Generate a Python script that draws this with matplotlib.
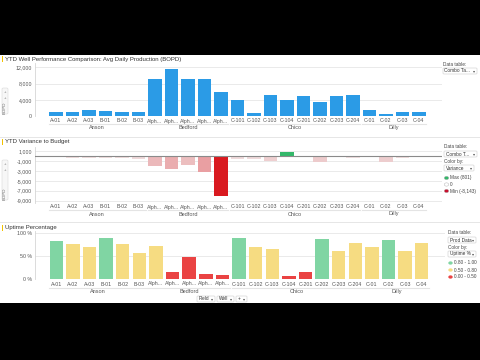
# Well dashboard: production, variance to budget, uptime
import matplotlib.pyplot as plt
import numpy as np
from matplotlib.patches import Rectangle, FancyBboxPatch, Circle
from matplotlib.colors import LinearSegmentedColormap, TwoSlopeNorm
from matplotlib.transforms import blended_transform_factory

plt.rcParams['font.family'] = ['Liberation Sans', 'DejaVu Sans']

W, H = 480, 360

wells = ["A-01", "A-02", "A-03", "B-01", "B-02", "B-03",
         "Alph...", "Alph...", "Alph...", "Alph...", "Alph...",
         "C-101", "C-102", "C-103", "C-104", "C-201", "C-202", "C-203", "C-204",
         "C-01", "C-02", "C-03", "C-04"]
fields = ["Anson", "Bedford", "Chico", "Dilly"]
field_sizes = [6, 5, 8, 4]

bopd = [1060, 980, 1470, 1220, 1060, 1060,
        9060, 11510, 8980, 9060, 5880,
        4000, 820, 5300, 4080, 5060, 3510, 5060, 5300,
        1470, 650, 980, 1140]
variance = [-60, -460, -420, -400, -480, -620,
            -2100, -2650, -1850, -3250, -8143,
            -520, -560, -1050, 801, -40, -1250, -250, -350,
            -280, -1180, -450, -30]
uptime = [0.83, 0.77, 0.70, 0.89, 0.76, 0.57,
          0.72, 0.16, 0.47, 0.11, 0.09,
          0.89, 0.70, 0.66, 0.07, 0.16, 0.86, 0.61, 0.79,
          0.69, 0.84, 0.61, 0.79]

fig = plt.figure(figsize=(4.8, 3.6), dpi=100, facecolor="black")
fig.patches.append(Rectangle((0, 1 - 303 / H), 1, (303 - 55) / H,
                             transform=fig.transFigure, facecolor="white",
                             edgecolor="none", zorder=-10))

def fx(x):
    return x / W

def fy(y):
    return 1 - y / H

def ftext(x, y, s, size=3.4, color="#444444", **kw):
    fig.text(fx(x), fy(y), s, fontsize=size, color=color, va="center", **kw)

def dropdown(x, y, w, s):
    fig.patches.append(FancyBboxPatch((fx(x), fy(y + 3)), fx(w), 6 / H,
                                      boxstyle="round,pad=0,rounding_size=0.002",
                                      transform=fig.transFigure, facecolor="white",
                                      edgecolor="#cccccc", linewidth=0.4))
    ftext(x + 1.5, y, s, color="#333333")
    ftext(x + w - 4, y, "▾", size=3.0, color="#555555")

def hline(y, x0=0, x1=W, color="#e2e2e2"):
    fig.add_artist(plt.Line2D([fx(x0), fx(x1)], [fy(y), fy(y)], color=color,
                              lw=0.6, transform=fig.transFigure))

def panel(top, bottom, ylim, title, title_y, tick_y, group_y, right=442):
    ax = fig.add_axes([fx(35), fy(bottom), fx(right - 35), (bottom - top) / H])
    ax.set_xlim(-1.28, 23.4)
    ax.set_ylim(*ylim)
    for s in ["top", "right", "bottom"]:
        ax.spines[s].set_visible(False)
    ax.spines["left"].set_color("#d6d6d6")
    ax.spines["left"].set_linewidth(0.6)
    ax.set_xticks(np.arange(len(wells)))
    ax.set_xticklabels(wells)
    ax.tick_params(length=0, labelsize=3.8, colors="#555555")
    ax.tick_params(axis="x", pad=(tick_y - bottom - 2.5) * 0.72)
    ax.tick_params(axis="y", pad=2.2)
    ax.grid(axis="y", color="#e6e6e6", lw=0.6)
    ax.set_axisbelow(True)
    # field groups under the well labels
    tr = blended_transform_factory(ax.transData, ax.transAxes)
    yg = (bottom - group_y) / (bottom - top)
    yl = (bottom - (group_y - 4)) / (bottom - top)
    start = 0
    for name, n in zip(fields, field_sizes):
        ax.text(start + (n - 1) / 2, yg, name, transform=tr, ha="center",
                va="center", fontsize=4.0, color="#555555")
        ax.plot([start - 0.45, start + n - 0.55], [yl, yl], transform=tr,
                color="#e4e4e4", lw=0.8, clip_on=False)
        start += n
    # title with the small yellow marker
    fig.patches.append(Rectangle((fx(2), fy(title_y + 3)), fx(1.2), 6 / H,
                                 transform=fig.transFigure, facecolor="#f2c200"))
    ftext(5, title_y, title, size=4.3, color="#333333")
    return ax

x = np.arange(len(wells))

# Panel 1: average daily production
ax1 = panel(63, 116.3, (0, 13000),
            "YTD Well Performance Comparison: Avg Daily Production (BOPD)",
            59, 121, 128)
ax1.bar(x, bopd, width=0.81, color="#2b9be6")
ax1.set_yticks([0, 4000, 8000, 12000])
ax1.yaxis.set_major_formatter(lambda v, p: f"{v:,.0f}")

# Panel 2: variance to budget
ax2 = panel(147, 203.2, (-9500, 1800), "YTD Variance to Budget", 142, 207, 214)
cmap = LinearSegmentedColormap.from_list(
    "var", [(0, "#d9191f"), (0.3, "#e9a0a3"), (0.5, "#f0e6e6"), (1, "#33b86a")])
norm = TwoSlopeNorm(vcenter=0, vmin=min(variance), vmax=max(variance))
ax2.bar(x, variance, width=0.81, color=cmap(norm(variance)))
ax2.set_yticks([1000, -1000, -3000, -5000, -7000, -9000])
ax2.yaxis.set_major_formatter(lambda v, p: f"{v:,.0f}")
ax2.axhline(0, color="#8a8a8a", lw=0.8, zorder=3)

# Panel 3: uptime
ax3 = panel(231, 279.3, (0, 1.04), "Uptime Percentage", 228, 284, 291.7, right=445)
up_cols = ["#80d5a3" if u >= 0.8 else "#f6dc82" if u >= 0.5 else "#ea4343"
           for u in uptime]
ax3.bar(x, uptime, width=0.81, color=up_cols)
ax3.set_yticks([0, 0.5, 1.0])
ax3.set_yticklabels(["0 %", "50 %", "100 %"])

# separators between panels
hline(136.5)
hline(221.7)

# right-hand controls
ftext(443, 64, "Data table:")
dropdown(443, 71, 34, "Combo Ta...")

ftext(444, 147, "Data table:")
dropdown(444, 154, 33, "Combo T...")
ftext(444, 161, "Color by:")
dropdown(444, 168, 30, "Variance")
for yy, c, lab in [(178, "#33b86a", "Max (801)"), (184.5, "white", "0"),
                   (191, "#c8102e", "Min (-8,143)")]:
    fig.patches.append(Circle((fx(446.5), fy(yy)), 2.2 / W, transform=fig.transFigure,
                              facecolor=c, edgecolor="#aaaaaa", linewidth=0.3))
    ftext(450, yy, lab)

ftext(448, 233, "Data table:")
dropdown(448, 240, 28, "Prod Data")
ftext(448, 247, "Color by:")
dropdown(448, 254, 28, "Uptime %")
for yy, c, lab in [(263, "#80d5a3", "0.80 - 1.00"), (270, "#f6dc82", "0.50 - 0.80"),
                   (277, "#ea4343", "0.00 - 0.50")]:
    fig.patches.append(Circle((fx(450.5), fy(yy)), 2.2 / W, transform=fig.transFigure,
                              facecolor=c, edgecolor="none"))
    ftext(454, yy, lab)

# left-hand axis controls
for top, bot in [(88, 114), (160, 200)]:
    fig.patches.append(FancyBboxPatch((fx(2), fy(bot)), fx(6), (bot - top) / H,
                                      boxstyle="round,pad=0,rounding_size=0.003",
                                      transform=fig.transFigure, facecolor="#f7f7f7",
                                      edgecolor="#d8d8d8", linewidth=0.4))
    ftext(5, top + 4, "+", size=3.2, ha="center", color="#777777")
    ftext(5, top + 10, "+", size=3.2, ha="center", color="#777777")
    fig.text(fx(5), fy(bot - 6), "BOPD", rotation=90, fontsize=3.2, color="#666666",
             ha="center", va="center")

# bottom axis controls
dropdown(197, 299, 18, "Field")
dropdown(217, 299, 17, "Well")
dropdown(236, 299, 11, "+")

fig.savefig("out.png", dpi=100, facecolor=fig.get_facecolor())
